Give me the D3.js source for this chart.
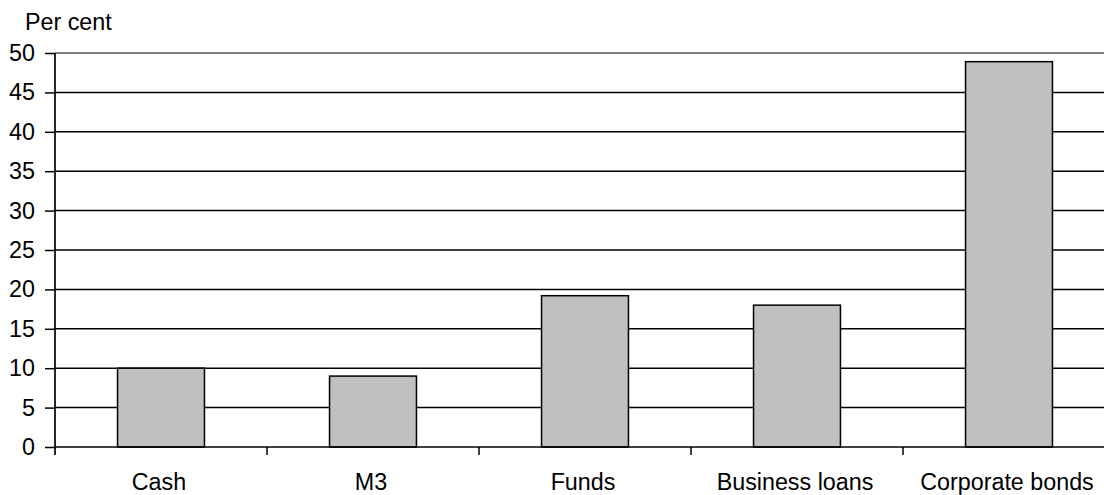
<!DOCTYPE html>
<html>
<head>
<meta charset="utf-8">
<script src="https://cdn.jsdelivr.net/npm/d3@7"></script>
<style>
  html, body { margin: 0; padding: 0; background: #fff; overflow: hidden; }
  svg { display: block; }
  text { font-family: "Liberation Sans", Arial, sans-serif; fill: #000; }
</style>
</head>
<body>
<svg id="chart" width="1104" height="495"></svg>
<script>
// Growth by instrument, per cent
const categories = ["Cash", "M3", "Funds", "Business loans", "Corporate bonds"];
const values = [10, 9, 19.2, 18, 48.9];
const yTicks = [0, 5, 10, 15, 20, 25, 30, 35, 40, 45, 50];
const yLabel = "Per cent";

const svg = d3.select("#chart");
const plotLeft = 55, plotTop = 53, plotBottom = 447, plotRight = 1115;
const fontSize = 23.3;

const x = d3.scaleBand().domain(categories).range([plotLeft, plotRight]).padding(0);
const y = d3.scaleLinear().domain([0, 50]).range([plotBottom, plotTop]);
const barW = x.bandwidth() * 0.41;

// horizontal gridlines (top one grey)
svg.append("g")
  .selectAll("line")
  .data(yTicks.filter(d => d > 0))
  .join("line")
  .attr("x1", plotLeft).attr("x2", plotRight)
  .attr("y1", d => y(d)).attr("y2", d => y(d))
  .attr("stroke", d => d === 50 ? "#808080" : "#000")
  .attr("stroke-width", d => d === 50 ? 2.2 : 1.5);

// bars
svg.append("g")
  .selectAll("rect")
  .data(values)
  .join("rect")
  .attr("x", (d, i) => x(categories[i]) + x.bandwidth() / 2 - barW / 2)
  .attr("width", barW)
  .attr("y", d => y(d))
  .attr("height", d => y(0) - y(d))
  .attr("fill", "#c0c0c0")
  .attr("stroke", "#000")
  .attr("stroke-width", 1.5);

// y axis
const yAxis = d3.axisLeft(y).tickValues(yTicks).tickSize(10).tickPadding(10).tickFormat(d3.format("d"));
const gy = svg.append("g").attr("transform", `translate(${plotLeft},0)`).call(yAxis);
gy.select(".domain").remove();
gy.selectAll(".tick line").attr("stroke", "#000").attr("stroke-width", 1.5);
gy.selectAll(".tick text").attr("font-size", fontSize).attr("font-family", "Liberation Sans, Arial, sans-serif");
svg.append("line")
  .attr("x1", plotLeft).attr("x2", plotLeft)
  .attr("y1", y(50)).attr("y2", plotBottom + 8)
  .attr("stroke", "#000").attr("stroke-width", 1.7);

// x axis baseline with boundary ticks
const boundaries = categories.slice(1).map(c => x(c));
svg.append("line")
  .attr("x1", plotLeft).attr("x2", plotRight)
  .attr("y1", y(0)).attr("y2", y(0))
  .attr("stroke", "#000").attr("stroke-width", 1.7);
svg.append("g")
  .selectAll("line")
  .data(boundaries)
  .join("line")
  .attr("x1", d => d).attr("x2", d => d)
  .attr("y1", y(0)).attr("y2", y(0) + 8)
  .attr("stroke", "#000").attr("stroke-width", 1.5);

// category labels
svg.append("g")
  .selectAll("text")
  .data(categories)
  .join("text")
  .attr("x", d => x(d) + x.bandwidth() / 2 - 2)
  .attr("y", 490)
  .attr("text-anchor", "middle")
  .attr("font-size", fontSize)
  .text(d => d);

// unit label
svg.append("text")
  .attr("x", 25).attr("y", 30)
  .attr("font-size", fontSize)
  .text(yLabel);
</script>
</body>
</html>
